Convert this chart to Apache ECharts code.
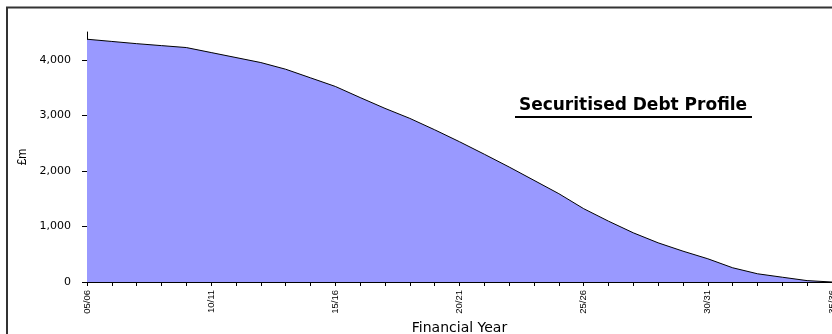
<!DOCTYPE html>
<html>
<head>
<meta charset="utf-8">
<script src="https://cdn.jsdelivr.net/npm/echarts@6/dist/echarts.min.js"></script>
<style>
  html, body { margin: 0; padding: 0; background: #fff; }
  #main { width: 832px; height: 334px; }
</style>
</head>
<body>
<div id="main"></div>
<script>
// financial years 05/06 .. 35/36
const years = ['05/06', '06/07', '07/08', '08/09', '09/10', '10/11', '11/12', '12/13', '13/14', '14/15',
  '15/16', '16/17', '17/18', '18/19', '19/20', '20/21', '21/22', '22/23', '23/24', '24/25',
  '25/26', '26/27', '27/28', '28/29', '29/30', '30/31', '31/32', '32/33', '33/34', '34/35', '35/36'];
// securitised debt outstanding, £m
const debt = [4370, 4330, 4290, 4255, 4220, 4130, 4040, 3950, 3830, 3675,
  3520, 3320, 3125, 2945, 2740, 2525, 2300, 2070, 1830, 1590,
  1320, 1095, 885, 705, 555, 418, 256, 148, 86, 25, 0];
const yTicks = [0, 1000, 2000, 3000, 4000];

const myChart = echarts.init(document.querySelector('#main'));

const option = {
  animation: false,
  backgroundColor: '#fff',
  // plot runs to the right edge, last label gets clipped like the original
  grid: { left: 87, width: 745, top: 32, bottom: 52, containLabel: false, outerBoundsMode: 'none' },
  graphic: [
    {
      type: 'rect',
      shape: { x: 7, y: 7.5, width: 860, height: 360 },
      style: { fill: 'none', stroke: '#333', lineWidth: 2 },
      silent: true
    },
    {
      type: 'text',
      x: 633,
      y: 106,
      style: {
        text: 'Securitised Debt Profile',
        font: 'bold 17px "DejaVu Sans"',
        fill: '#000',
        align: 'center',
        verticalAlign: 'middle'
      }
    },
    {
      type: 'line',
      shape: { x1: 515, y1: 117, x2: 752, y2: 117 },
      style: { stroke: '#000', lineWidth: 2 }
    }
  ],
  xAxis: {
    type: 'category',
    data: years,
    boundaryGap: false,
    name: 'Financial Year',
    nameLocation: 'middle',
    nameGap: 38,
    nameTextStyle: { fontFamily: 'DejaVu Sans', fontSize: 14, color: '#000' },
    axisLine: { lineStyle: { color: '#000', width: 1 } },
    axisTick: { interval: 0, length: 4, lineStyle: { color: '#000' } },
    axisLabel: {
      interval: 4,
      rotate: 90,
      margin: 8,
      fontFamily: 'Liberation Sans',
      fontSize: 9.5,
      color: '#000',
      showMaxLabel: true
    },
    splitLine: { show: false }
  },
  yAxis: {
    type: 'value',
    min: 0,
    max: 4500,
    interval: 1000,
    name: '£m',
    nameLocation: 'middle',
    nameGap: 57,
    nameRotate: 90,
    nameTextStyle: { fontFamily: 'Liberation Sans', fontSize: 12, color: '#000' },
    axisLine: { show: true, lineStyle: { color: '#000', width: 1 } },
    axisTick: { show: true, length: 5, customValues: yTicks, lineStyle: { color: '#000' } },
    axisLabel: {
      customValues: yTicks,
      margin: 16,
      fontFamily: 'DejaVu Sans',
      fontSize: 11,
      color: '#000',
      formatter: v => v.toLocaleString('en-GB')
    },
    splitLine: { show: false }
  },
  series: [
    {
      name: 'Securitised Debt',
      type: 'line',
      data: debt,
      symbol: 'none',
      smooth: false,
      lineStyle: { color: '#000', width: 1 },
      areaStyle: { color: '#9999FF', opacity: 1 }
    }
  ]
};

myChart.setOption(option);
</script>
</body>
</html>
